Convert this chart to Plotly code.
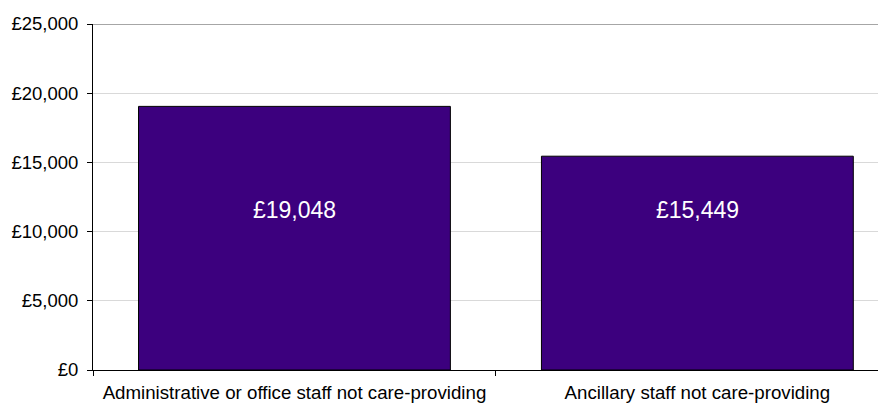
import plotly.graph_objects as go

# chart data
categories = [
    "Administrative or office staff not care-providing",
    "Ancillary staff not care-providing",
]
pay = [19048, 15449]
y_ticks = [0, 5000, 10000, 15000, 20000, 25000]
y_tick_text = ["£{:,}".format(v) for v in y_ticks]

BAR_COLOR = "#3C007E"
FONT = "Liberation Sans, Arial, sans-serif"
LABEL_Y = 11560  # labels sit at a fixed height inside the bars

fig = go.Figure()
fig.add_trace(
    go.Bar(
        x=categories,
        y=pay,
        width=0.774,
        marker=dict(color=BAR_COLOR, line=dict(color="#000000", width=1)),
        hoverinfo="skip",
    )
)

for cat, val in zip(categories, pay):
    fig.add_annotation(
        x=cat,
        y=LABEL_Y,
        text="£{:,}".format(val),
        showarrow=False,
        font=dict(family=FONT, size=23, color="#ffffff"),
    )

# darker top gridline at the maximum
fig.add_shape(
    type="line",
    xref="paper",
    yref="y",
    x0=0,
    x1=1,
    y0=y_ticks[-1],
    y1=y_ticks[-1],
    line=dict(color="#888888", width=1.5),
    layer="above",
)

# page body has an 8px default margin, so the margins are trimmed to suit
fig.update_layout(
    width=886,
    height=406,
    margin=dict(l=85, r=0, t=16, b=44, autoexpand=False),
    paper_bgcolor="#ffffff",
    plot_bgcolor="#ffffff",
    showlegend=False,
    font=dict(family=FONT, size=18.5, color="#000000"),
)
fig.update_xaxes(
    type="category",
    range=[-0.5, 1.488],
    showline=True,
    linecolor="#000000",
    linewidth=1,
    ticks="outside",
    tickson="boundaries",
    ticklen=5,
    tickcolor="#000000",
    ticklabelstandoff=6,
    showgrid=False,
    tickfont=dict(family=FONT, size=18.7, color="#000000"),
)
fig.update_yaxes(
    range=[0, 25000],
    tickvals=y_ticks,
    ticktext=y_tick_text,
    showline=True,
    linecolor="#000000",
    linewidth=1,
    ticks="outside",
    ticklen=5,
    tickcolor="#000000",
    ticklabelstandoff=5,
    showgrid=True,
    gridcolor="#d9d9d9",
    gridwidth=1,
    zeroline=False,
    tickfont=dict(family=FONT, size=18.5, color="#000000"),
)

fig.write_html("out.html")
